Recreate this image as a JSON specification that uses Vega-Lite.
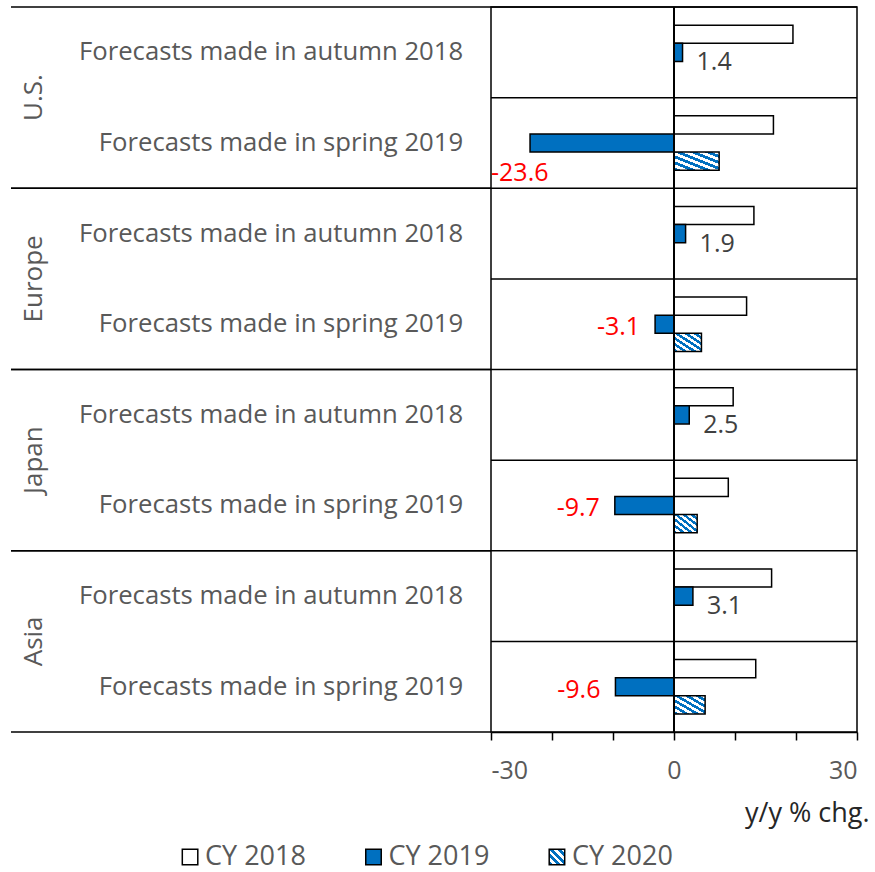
{
  "$schema": "https://vega.github.io/schema/vega-lite/v6.json",
  "padding": {"left": 10, "top": 5, "right": 0, "bottom": 3},
  "config": {
    "font": "Open Sans",
    "view": {"stroke": null},
    "text": {"font": "Open Sans"}
  },
  "datasets": {
    "rows": [
      {"row": "US-a", "label": "Forecasts made in autumn 2018"},
      {"row": "US-s", "label": "Forecasts made in spring 2019"},
      {"row": "EU-a", "label": "Forecasts made in autumn 2018"},
      {"row": "EU-s", "label": "Forecasts made in spring 2019"},
      {"row": "JP-a", "label": "Forecasts made in autumn 2018"},
      {"row": "JP-s", "label": "Forecasts made in spring 2019"},
      {"row": "AS-a", "label": "Forecasts made in autumn 2018"},
      {"row": "AS-s", "label": "Forecasts made in spring 2019"}
    ],
    "groups": [
      {"region": "U.S.", "first": "US-a", "last": "US-s"},
      {"region": "Europe", "first": "EU-a", "last": "EU-s"},
      {"region": "Japan", "first": "JP-a", "last": "JP-s"},
      {"region": "Asia", "first": "AS-a", "last": "AS-s"}
    ],
    "legend": [
      {"series": "CY 2018"},
      {"series": "CY 2019"},
      {"series": "CY 2020"}
    ],
    "bars": [
      {"row": "US-a", "series": "CY 2018", "value": 19.5},
      {"row": "US-a", "series": "CY 2019", "value": 1.4},
      {"row": "US-s", "series": "CY 2018", "value": 16.3},
      {"row": "US-s", "series": "CY 2019", "value": -23.6},
      {"row": "US-s", "series": "CY 2020", "value": 7.4},
      {"row": "EU-a", "series": "CY 2018", "value": 13.1},
      {"row": "EU-a", "series": "CY 2019", "value": 1.9},
      {"row": "EU-s", "series": "CY 2018", "value": 11.9},
      {"row": "EU-s", "series": "CY 2019", "value": -3.1},
      {"row": "EU-s", "series": "CY 2020", "value": 4.5},
      {"row": "JP-a", "series": "CY 2018", "value": 9.7},
      {"row": "JP-a", "series": "CY 2019", "value": 2.5},
      {"row": "JP-s", "series": "CY 2018", "value": 8.9},
      {"row": "JP-s", "series": "CY 2019", "value": -9.7},
      {"row": "JP-s", "series": "CY 2020", "value": 3.8},
      {"row": "AS-a", "series": "CY 2018", "value": 16.0},
      {"row": "AS-a", "series": "CY 2019", "value": 3.1},
      {"row": "AS-s", "series": "CY 2018", "value": 13.4},
      {"row": "AS-s", "series": "CY 2019", "value": -9.6},
      {"row": "AS-s", "series": "CY 2020", "value": 5.1}
    ]
  },
  "vconcat": [
    {
      "spacing": 0,
      "bounds": "flush",
      "hconcat": [
        {
          "width": 480,
          "height": 725,
          "view": {"stroke": null},
          "layer": [
            {
              "data": {"name": "rows"},
              "mark": {"type": "text", "align": "right", "baseline": "middle", "fontSize": 25.7, "color": "#595959"},
              "encoding": {
                "y": {"field": "row", "type": "nominal", "sort": null, "axis": null,
                      "scale": {"domain": ["US-a","US-s","EU-a","EU-s","JP-a","JP-s","AS-a","AS-s"], "paddingInner": 0, "paddingOuter": 0}},
                "x": {"datum": 0.942, "type": "quantitative", "axis": null, "scale": {"domain": [0, 1], "nice": false}},
                "text": {"field": "label"}
              }
            },
            {
              "data": {"name": "groups"},
              "mark": {"type": "text", "align": "center", "baseline": "middle", "angle": 270, "fontSize": 26, "color": "#595959"},
              "encoding": {
                "y": {"field": "first", "type": "nominal", "bandPosition": 1},
                "x": {"datum": 0.048, "type": "quantitative"},
                "text": {"field": "region"}
              }
            },
            {
              "data": {"name": "groups"},
              "mark": {"type": "rule", "color": "black", "strokeWidth": 1.5},
              "encoding": {
                "y": {"field": "first", "type": "nominal", "bandPosition": 0}
              }
            },
            {
              "data": {"name": "groups"},
              "mark": {"type": "rule", "color": "black", "strokeWidth": 1.5},
              "encoding": {
                "y": {"field": "last", "type": "nominal", "bandPosition": 1}
              }
            }
          ]
        },
        {
          "width": 366,
          "height": 725,
          "view": {"stroke": "black", "strokeWidth": 1.5},
          "layer": [
            {
              "data": {"name": "rows"},
              "mark": {"type": "rule", "color": "black", "strokeWidth": 1.5},
              "encoding": {
                "y": {"field": "row", "type": "nominal", "bandPosition": 0, "axis": null,
                      "scale": {"domain": ["US-a","US-s","EU-a","EU-s","JP-a","JP-s","AS-a","AS-s"], "paddingInner": 0, "paddingOuter": 0}}
              }
            },
            {
              "data": {"name": "bars"},
              "mark": {"type": "bar", "stroke": "black", "strokeWidth": 1.5},
              "encoding": {
                "y": {"field": "row", "type": "nominal"},
                "yOffset": {"field": "series", "type": "nominal",
                            "scale": {"domain": ["CY 2018","CY 2019","CY 2020"], "paddingInner": 0, "paddingOuter": 1.16}},
                "x": {"field": "value", "type": "quantitative",
                      "scale": {"domain": [-30, 30], "nice": false, "zero": false},
                      "axis": {
                        "values": [-30, -20, -10, 0, 10, 20, 30],
                        "labelExpr": "datum.value % 30 == 0 ? toString(datum.value) : ''",
                        "grid": false,
                        "domainColor": "black", "domainWidth": 1.5,
                        "tickColor": "black", "tickWidth": 1.5, "tickSize": 8,
                        "labelFontSize": 25, "labelColor": "#595959", "labelPadding": 18,
                        "labelFont": "Open Sans",
                        "title": "y/y % chg.",
                        "titleFont": "Open Sans", "titleFontSize": 27, "titleFontWeight": "normal",
                        "titleColor": "#262626", "titleAlign": "right", "titleAnchor": "end",
                        "titleX": 378, "titleY": 89, "titleBaseline": "alphabetic"
                      }},
                "fill": {
                  "condition": [
                    {"test": "datum.series == 'CY 2020'",
                     "value": {"gradient": "linear", "x1": 0, "y1": 1, "x2": 1, "y2": 0,
                      "stops": [
                        {"offset": 0, "color": "#0070C0"}, {"offset": 0.0833, "color": "#0070C0"},
                        {"offset": 0.0833, "color": "white"}, {"offset": 0.1667, "color": "white"},
                        {"offset": 0.1667, "color": "#0070C0"}, {"offset": 0.25, "color": "#0070C0"},
                        {"offset": 0.25, "color": "white"}, {"offset": 0.3333, "color": "white"},
                        {"offset": 0.3333, "color": "#0070C0"}, {"offset": 0.4167, "color": "#0070C0"},
                        {"offset": 0.4167, "color": "white"}, {"offset": 0.5, "color": "white"},
                        {"offset": 0.5, "color": "#0070C0"}, {"offset": 0.5833, "color": "#0070C0"},
                        {"offset": 0.5833, "color": "white"}, {"offset": 0.6667, "color": "white"},
                        {"offset": 0.6667, "color": "#0070C0"}, {"offset": 0.75, "color": "#0070C0"},
                        {"offset": 0.75, "color": "white"}, {"offset": 0.8333, "color": "white"},
                        {"offset": 0.8333, "color": "#0070C0"}, {"offset": 0.9167, "color": "#0070C0"},
                        {"offset": 0.9167, "color": "white"}, {"offset": 1, "color": "white"}
                      ]}},
                    {"test": "datum.series == 'CY 2019'", "value": "#0070C0"}
                  ],
                  "value": "white"
                }
              }
            },
            {
              "data": {"name": "rows"},
              "mark": {"type": "rule", "color": "black", "strokeWidth": 1.5},
              "encoding": {"x": {"datum": 0}}
            },
            {
              "data": {"name": "bars"},
              "transform": [{"filter": "datum.series == 'CY 2019' && datum.value > 0"}],
              "mark": {"type": "text", "align": "left", "baseline": "middle", "dx": 14, "dy": 10, "fontSize": 25, "color": "#404040"},
              "encoding": {
                "y": {"field": "row", "type": "nominal"},
                "yOffset": {"field": "series", "type": "nominal"},
                "x": {"field": "value", "type": "quantitative"},
                "text": {"field": "value", "type": "nominal"}
              }
            },
            {
              "data": {"name": "bars"},
              "transform": [{"filter": "datum.series == 'CY 2019' && datum.value < 0 && datum.value > -20"}],
              "mark": {"type": "text", "align": "right", "baseline": "middle", "dx": -15, "dy": 3, "fontSize": 25, "color": "#FF0000"},
              "encoding": {
                "y": {"field": "row", "type": "nominal"},
                "yOffset": {"field": "series", "type": "nominal"},
                "x": {"field": "value", "type": "quantitative"},
                "text": {"field": "value", "type": "nominal"}
              }
            },
            {
              "data": {"name": "bars"},
              "transform": [{"filter": "datum.series == 'CY 2019' && datum.value <= -20"}],
              "mark": {"type": "text", "align": "left", "baseline": "middle", "dx": 0, "dy": 30, "fontSize": 25, "color": "#FF0000"},
              "encoding": {
                "y": {"field": "row", "type": "nominal"},
                "yOffset": {"field": "series", "type": "nominal"},
                "x": {"datum": -30, "type": "quantitative"},
                "text": {"field": "value", "type": "nominal"}
              }
            }
          ]
        }
      ]
    },
    {
      "width": 725,
      "height": 28,
      "view": {"stroke": null},
      "data": {"name": "legend"},
      "encoding": {
        "x": {"field": "series", "type": "nominal", "axis": null,
              "scale": {"type": "point", "domain": ["CY 2018","CY 2019","CY 2020"], "padding": 0.976}}
      },
      "layer": [
        {
          "mark": {"type": "point", "shape": "square", "size": 240, "filled": true, "stroke": "black", "strokeWidth": 1.5, "opacity": 1},
          "encoding": {
            "fill": {
              "condition": [
                {"test": "datum.series == 'CY 2020'",
                 "value": {"gradient": "linear", "x1": 0, "y1": 1, "x2": 1, "y2": 0,
                   "stops": [
                     {"offset": 0, "color": "#0070C0"}, {"offset": 0.125, "color": "#0070C0"},
                     {"offset": 0.125, "color": "white"}, {"offset": 0.25, "color": "white"},
                     {"offset": 0.25, "color": "#0070C0"}, {"offset": 0.375, "color": "#0070C0"},
                     {"offset": 0.375, "color": "white"}, {"offset": 0.5, "color": "white"},
                     {"offset": 0.5, "color": "#0070C0"}, {"offset": 0.625, "color": "#0070C0"},
                     {"offset": 0.625, "color": "white"}, {"offset": 0.75, "color": "white"},
                     {"offset": 0.75, "color": "#0070C0"}, {"offset": 0.875, "color": "#0070C0"},
                     {"offset": 0.875, "color": "white"}, {"offset": 1, "color": "white"}
                   ]}},
                {"test": "datum.series == 'CY 2019'", "value": "#0070C0"}
              ],
              "value": "white"
            }
          }
        },
        {
          "mark": {"type": "text", "align": "left", "baseline": "middle", "dx": 15, "fontSize": 27, "color": "#595959"},
          "encoding": {"text": {"field": "series"}}
        }
      ]
    }
  ],
  "spacing": 16
}
